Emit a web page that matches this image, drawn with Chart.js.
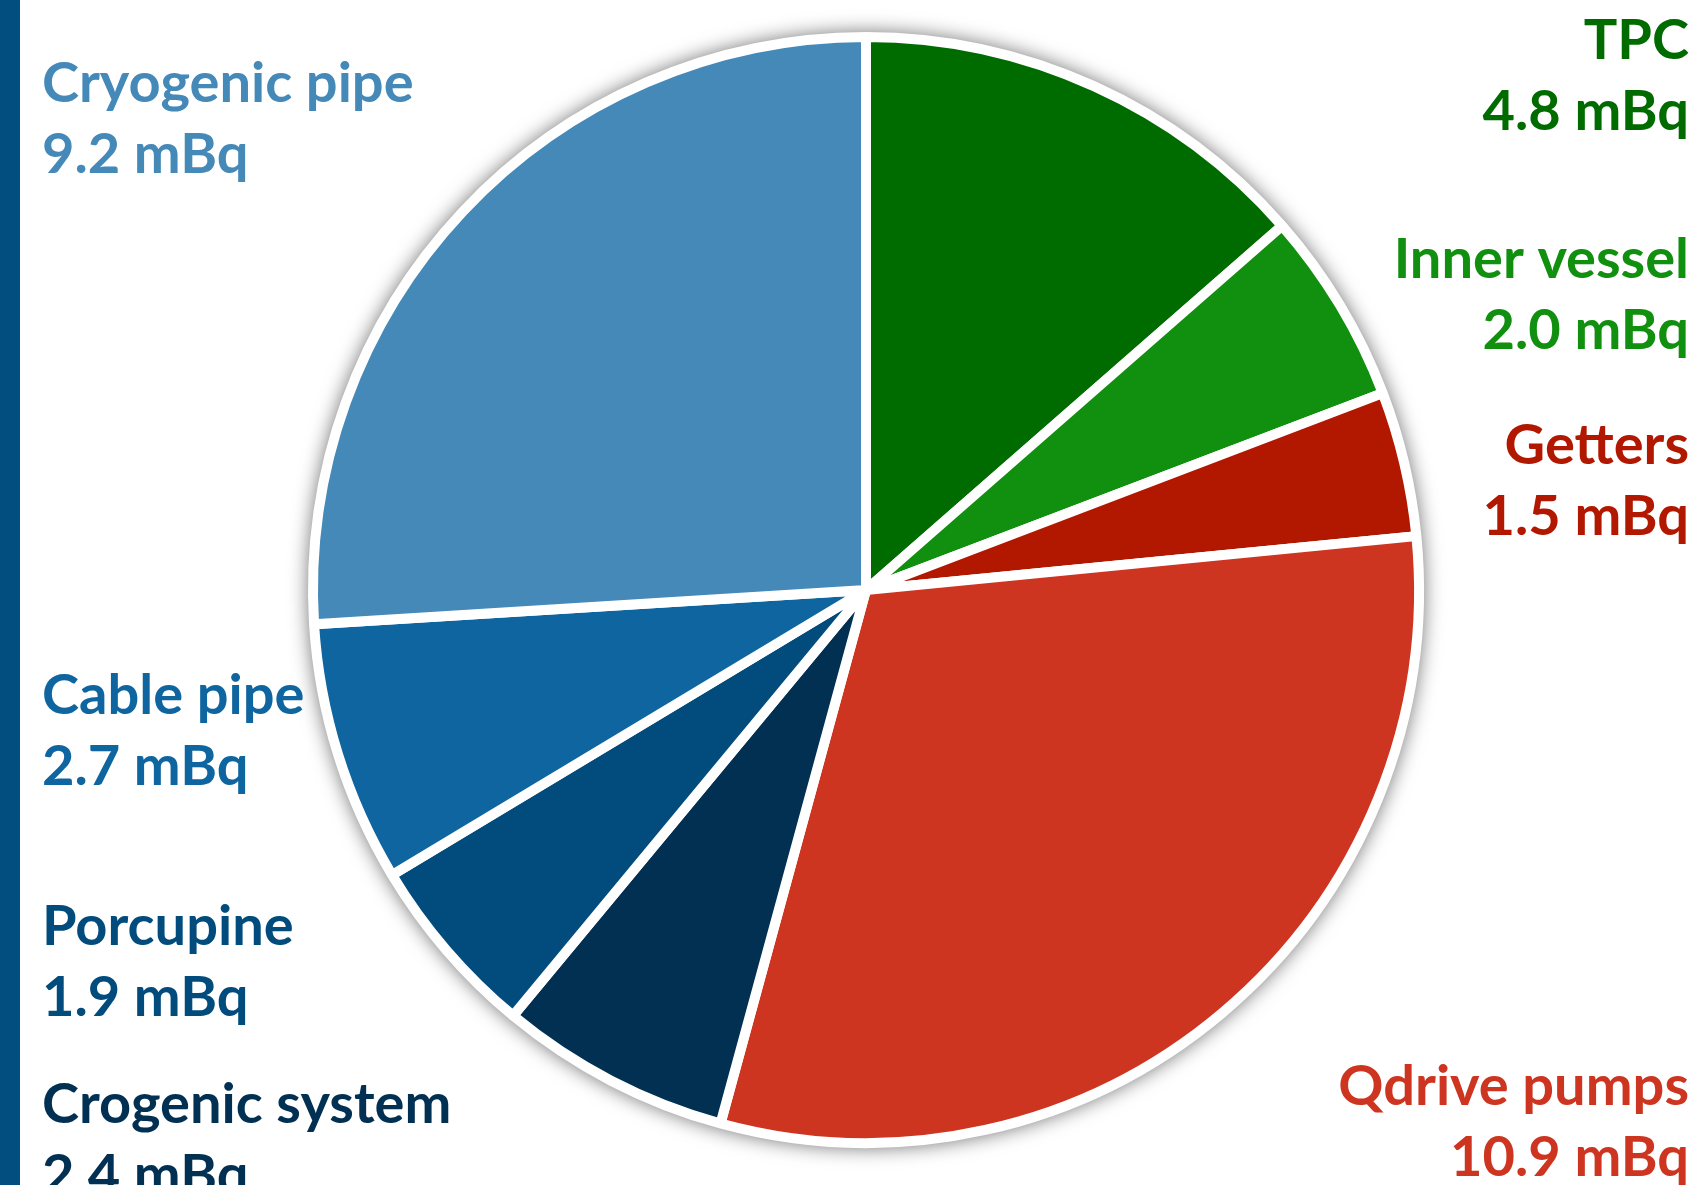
<!DOCTYPE html>
<html>
<head>
<meta charset="utf-8">
<script src="https://cdn.jsdelivr.net/npm/chart.js@4/dist/chart.umd.min.js"></script>
<style>
  html, body { margin: 0; padding: 0; background: #ffffff; overflow: hidden; }
  #wrap { position: relative; width: 1693px; height: 1185px; }
  #bar { position: absolute; left: 0; top: 0; width: 20px; height: 1185px; background: #024e7f; }
  canvas { position: absolute; left: 0; top: 0; }
</style>
</head>
<body>
<div id="wrap">
  <canvas id="pie" width="1693" height="1185"></canvas>
  <div id="bar"></div>
</div>
<script>
// Background sources, clockwise from 12 o'clock
const categories = ['TPC', 'Inner vessel', 'Getters', 'Qdrive pumps',
                    'Crogenic system', 'Porcupine', 'Cable pipe', 'Cryogenic pipe'];
const activity = [4.8, 2.0, 1.5, 10.9, 2.4, 1.9, 2.7, 9.2];   // mBq
const unit = 'mBq';
const sliceColors = ['#006c00', '#118f0f', '#b21800', '#cd3521',
                     '#013052', '#014c7d', '#0e65a0', '#4489b8'];

// Where each two-line caption sits: anchor x, first baseline, alignment
const captionSpots = [
  { x: 1689, y: 59,   align: 'right' },
  { x: 1689, y: 278,  align: 'right' },
  { x: 1689, y: 464,  align: 'right' },
  { x: 1689, y: 1105, align: 'right' },
  { x: 42,   y: 1123, align: 'left' },
  { x: 42,   y: 945,  align: 'left' },
  { x: 42,   y: 714,  align: 'left' },
  { x: 42,   y: 102,  align: 'left' }
];
const captionFont = 'bold 56px Lato';
const captionLineGap = 71;

// Soft grey halo painted underneath the pie
const pieHalo = {
  id: 'pieHalo',
  beforeDatasetsDraw(chart) {
    const arc = chart.getDatasetMeta(0).data[0];
    if (!arc) return;
    const ctx = chart.ctx;
    ctx.save();
    ctx.shadowColor = 'rgba(0,0,0,0.6)';
    ctx.shadowBlur = 20;
    ctx.fillStyle = '#ffffff';
    ctx.beginPath();
    ctx.arc(arc.x, arc.y, arc.outerRadius + 4, 0, Math.PI * 2);
    ctx.fill();
    ctx.restore();
  }
};

// Name and value captions in the slice colours
const captions = {
  id: 'captions',
  afterDraw(chart) {
    const ctx = chart.ctx;
    ctx.save();
    ctx.font = captionFont;
    ctx.textBaseline = 'alphabetic';
    categories.forEach((name, i) => {
      const spot = captionSpots[i];
      ctx.fillStyle = sliceColors[i];
      ctx.textAlign = spot.align;
      ctx.fillText(name, spot.x, spot.y);
      ctx.fillText(activity[i].toFixed(1) + ' ' + unit, spot.x, spot.y + captionLineGap);
    });
    ctx.restore();
  }
};

new Chart(document.getElementById('pie'), {
  type: 'pie',
  data: {
    labels: categories,
    datasets: [{
      data: activity,
      backgroundColor: sliceColors,
      borderColor: '#ffffff',
      borderWidth: 10,
      radius: 553
    }]
  },
  options: {
    responsive: false,
    animation: false,
    events: [],
    layout: { padding: { left: 39, right: 0, top: 0, bottom: 5 } },
    plugins: {
      legend: { display: false },
      tooltip: { enabled: false }
    }
  },
  plugins: [pieHalo, captions]
});
</script>
</body>
</html>
